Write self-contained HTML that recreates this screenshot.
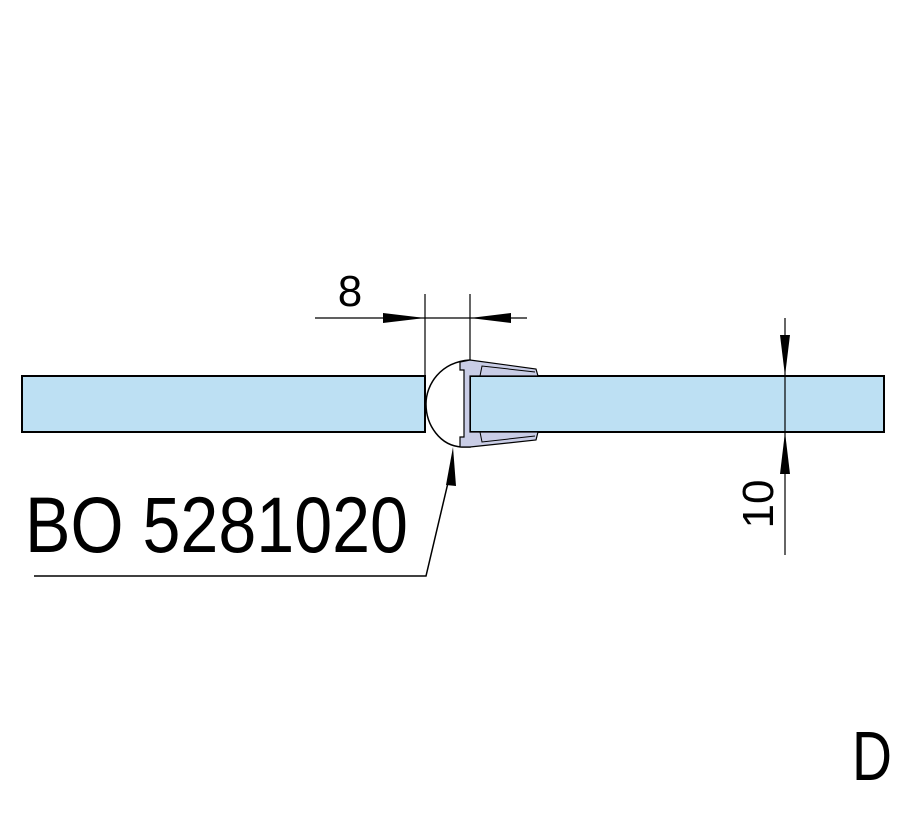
<!DOCTYPE html>
<html><head><style>html,body{margin:0;padding:0;background:#fff;}svg{display:block}</style></head>
<body>
<svg width="909" height="820" viewBox="0 0 909 820" xmlns="http://www.w3.org/2000/svg" font-family="Liberation Sans, sans-serif">
<rect x="22" y="376" width="403" height="56" fill="#bde0f3" stroke="#000" stroke-width="2"/>
<rect x="470" y="376" width="414" height="56" fill="#bde0f3" stroke="#000" stroke-width="2"/>
<path d="M470,360 C440,362 426,385 426,404 C426,425 440,446 462,447 L470,447 Z" fill="#fff" stroke="#000" stroke-width="1.5"/>
<path d="M460,362 L470,360 L536,369 L538,376 L470,376 L470,432 L538,432 L536,440 L470,447 L460,447 L460,437 L464,437 L464,370 L460,370 Z" fill="#c9cde6" stroke="#000" stroke-width="1.2"/>
<path d="M480,376 L482,366 L535,372 M480,432 L482,442 L535,436" fill="none" stroke="#000" stroke-width="1"/>
<line x1="425" y1="294" x2="425" y2="376" stroke="#000" stroke-width="1.2"/>
<line x1="470" y1="294" x2="470" y2="360" stroke="#000" stroke-width="1.2"/>
<line x1="315" y1="318" x2="527" y2="318" stroke="#000" stroke-width="1.2"/>
<polygon points="425,318 383,313 383,323" fill="#000"/>
<polygon points="470,318 511,313 511,323" fill="#000"/>
<text x="350" y="306" font-size="44" text-anchor="middle">8</text>
<line x1="785" y1="318" x2="785" y2="555" stroke="#000" stroke-width="1.2"/>
<polygon points="785,376 780,335 790,335" fill="#000"/>
<polygon points="785,432 780,474 790,474" fill="#000"/>
<text transform="translate(773,504) rotate(-90)" font-size="44" text-anchor="middle">10</text>
<polygon points="453,447 446,485 456,486" fill="#000"/>
<polyline points="451,470 426,576 34,576" fill="none" stroke="#000" stroke-width="1.5"/>
<text x="25" y="552" font-size="79" textLength="383" lengthAdjust="spacingAndGlyphs">BO 5281020</text>
<text x="852" y="780" font-size="70" textLength="40" lengthAdjust="spacingAndGlyphs">D</text>
</svg>
</body></html>
